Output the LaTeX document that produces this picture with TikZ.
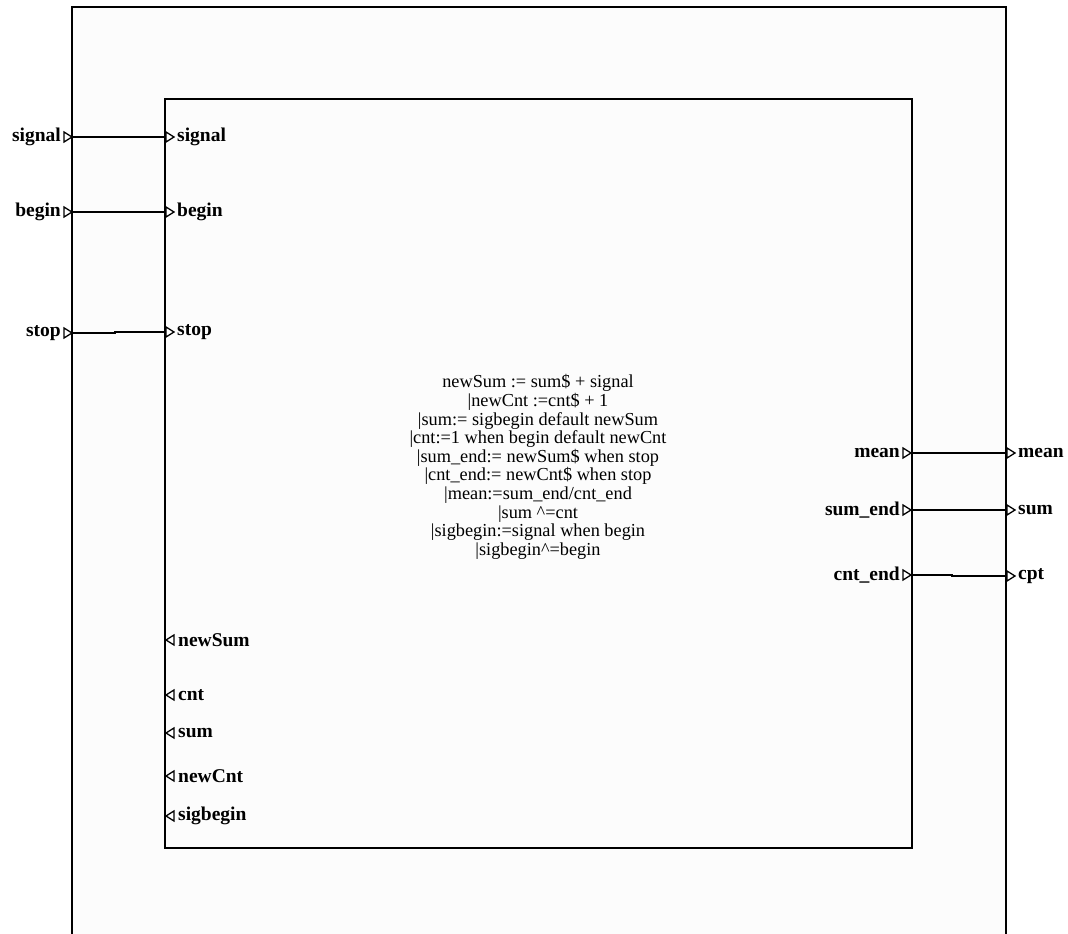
\documentclass[tikz,border=0pt]{standalone}
\usepackage{fontspec}
\setmainfont{Liberation Serif}
\begin{document}
\begin{tikzpicture}[
    x=1pt, y=-1pt,   % coordinate in punti, asse y verso il basso
    scatola/.style={draw=black, fill=black!1},
    filo/.style={draw=black, line width=1.4pt},
    porta/.style={draw=black, line width=1.3pt, fill=white, line join=miter},
    etichetta/.style={font=\fontsize{19.5}{19.5}\selectfont\bfseries, inner sep=0pt},
    equazioni/.style={font=\fontsize{18.3}{18.6}\selectfont, align=center, inner sep=0pt},
    pdx/.pic={\draw[porta] (0,-5) -- (8,0) -- (0,5) -- cycle;},
    psx/.pic={\draw[porta] (8,-5) -- (0,0) -- (8,5) -- cycle;}
]
    \useasboundingbox (0,0) rectangle (1068,934);

    % =========================================================================
    % 1. SCATOLE: processo esterno e processo interno
    % =========================================================================
    \draw[scatola, line width=1.7pt] (72,7) rectangle (1006,960);
    \draw[scatola, line width=1.4pt] (165,99) rectangle (912,848);

    % =========================================================================
    % 2. INGRESSI (lato sinistro)
    % =========================================================================
    \foreach \nome/\y in {signal/137, begin/212} {
        \pic at (64,\y) {pdx};
        \pic at (166,\y) {pdx};
        \node[etichetta, anchor=east] (lab-est-\nome) at (61,\y) {\nome};
        \node[etichetta, anchor=west] (lab-int-\nome) at (177,\y) {\nome};
        \coordinate (est-\nome) at (72,\y);
        \coordinate (int-\nome) at (165,\y);
        \draw[filo] (est-\nome) -- (int-\nome);
    }

    % ingresso stop (filo con piccolo gradino)
    \pic at (64,333) {pdx};
    \pic at (166,332) {pdx};
    \node[etichetta, anchor=east] (lab-est-stop) at (61,333) {stop};
    \node[etichetta, anchor=west] (lab-int-stop) at (177,332) {stop};
    \coordinate (est-stop) at (72,333);
    \coordinate (int-stop) at (165,332);
    \draw[filo] (est-stop) -- ++(43,0) |- (int-stop);

    % =========================================================================
    % 3. USCITE (lato destro)
    % =========================================================================
    \foreach \nome/\testoint/\testoest/\y in {mean/mean/mean/453, sumend/sum\_end/sum/510} {
        \pic at (903,\y) {pdx};
        \pic at (1007,\y) {pdx};
        \node[etichetta, anchor=east] (lab-int-\nome) at (900,\y) {\testoint};
        \node[etichetta, anchor=west] (lab-est-\nome) at (1018,\y) {\testoest};
        \coordinate (int-\nome) at (912,\y);
        \coordinate (est-\nome) at (1006,\y);
        \draw[filo] (int-\nome) -- (est-\nome);
    }

    % uscita cpt (filo con piccolo gradino)
    \pic at (903,575) {pdx};
    \pic at (1007,576) {pdx};
    \node[etichetta, anchor=east] (lab-int-cntend) at (900,575) {cnt\_end};
    \node[etichetta, anchor=west] (lab-est-cpt) at (1018,576) {cpt};
    \coordinate (int-cntend) at (912,575);
    \coordinate (est-cpt) at (1006,576);
    \draw[filo] (int-cntend) -- ++(40,0) |- (est-cpt);

    % =========================================================================
    % 4. SEGNALI LOCALI
    % =========================================================================
    \foreach \nome/\y in {newSum/640, cnt/695, sum/733, newCnt/776, sigbegin/816} {
        \pic at (166,\y) {psx};
        \node[etichetta, anchor=west] (loc-\nome) at (178,\y) {\nome};
    }

    % =========================================================================
    % 5. EQUAZIONI DEL PROCESSO
    % =========================================================================
    \node[equazioni] (equazioni) at (538,467) {%
        newSum := sum\$ + signal\\
        |newCnt :=cnt\$ + 1\\
        |sum:= sigbegin default newSum\\
        |cnt:=1 when begin default newCnt\\
        |sum\_end:= newSum\$ when stop\\
        |cnt\_end:= newCnt\$ when stop\\
        |mean:=sum\_end/cnt\_end\\
        |sum \textasciicircum=cnt\\
        |sigbegin:=signal when begin\\
        |sigbegin\textasciicircum=begin};

\end{tikzpicture}
\end{document}
